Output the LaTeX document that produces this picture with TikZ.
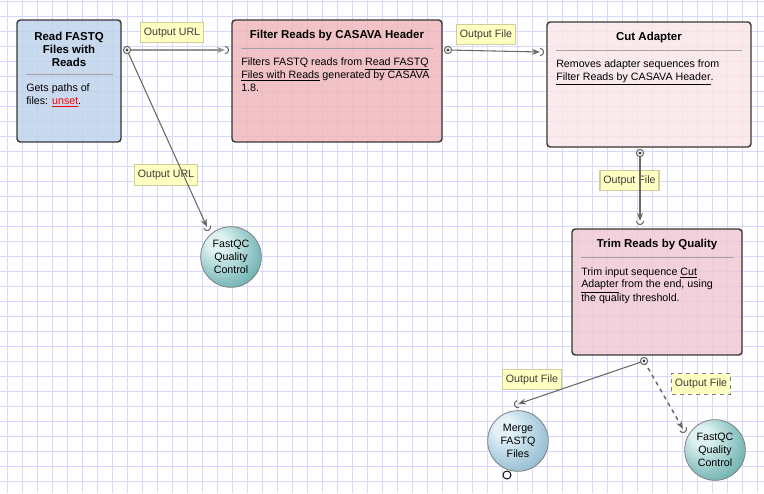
\documentclass[tikz,border=0pt]{standalone}
\usepackage{fontspec}
\setmainfont{Liberation Sans}
\usepackage{tikz}
\usetikzlibrary{arrows.meta}

\definecolor{gridline}{RGB}{216,216,250}
\definecolor{boxedge}{RGB}{55,55,55}
\definecolor{sepgray}{RGB}{165,160,165}
\definecolor{readblue}{RGB}{190,211,235}
\definecolor{filterpink}{RGB}{240,182,186}
\definecolor{cutpink}{RGB}{251,230,233}
\definecolor{trimpink}{RGB}{240,200,212}
\definecolor{lblfill}{RGB}{255,255,194}
\definecolor{lbledge}{RGB}{205,205,160}
\definecolor{lbltext}{RGB}{60,60,60}
\definecolor{flowgray}{RGB}{105,105,105}
\definecolor{fqlight}{RGB}{222,242,242}
\definecolor{fqdark}{RGB}{28,132,128}
\definecolor{mglight}{RGB}{228,242,248}
\definecolor{mgdark}{RGB}{88,150,182}

\pgfdeclareradialshading{fastqcball}{\pgfpoint{-14bp}{14bp}}{color(0bp)=(fqlight); color(8bp)=(fqlight); color(50bp)=(fqdark)}
\pgfdeclareradialshading{mergeball}{\pgfpoint{-14bp}{14bp}}{color(0bp)=(mglight); color(8bp)=(mglight); color(50bp)=(mgdark)}

\tikzset{
  stepbox/.style={rectangle, draw=boxedge, line width=1.1pt, rounded corners=2.5pt, fill opacity=0.82},
  sepline/.style={draw=sepgray, line width=0.75pt},
  titletext/.style={font=\fontsize{8.6pt}{9.75pt}\selectfont\bfseries, align=center, inner sep=0pt},
  bodytext/.style={align=left, anchor=north west, inner sep=0pt},
  outlabel/.style={rectangle, fill=lblfill, draw=lbledge, line width=0.9pt, text=lbltext,
    inner xsep=2.5pt, inner ysep=0pt, minimum height=15.5pt},
  taskball/.style={circle, draw=gray, line width=0.6pt, minimum size=45.5pt, inner sep=0pt, align=center},
  flow/.style={draw=flowgray, line width=0.8pt, -{Stealth[length=6pt,width=4.5pt]}},
  portring/.style={draw=flowgray, line width=0.8pt},
}

\newcommand{\outport}[1]{%
  \draw[portring, fill=white] (#1) circle[radius=2.7pt];
  \fill[black!75] (#1) circle[radius=1.3pt];}
\newcommand{\inport}[2]{%
  \draw[portring] (#1) ++(#2+90:2.7pt) arc[start angle=#2+90, end angle=#2-90, radius=2.7pt];}

\begin{document}
\begin{tikzpicture}[x=0.75pt, y=-0.75pt, font=\fontsize{8pt}{9.75pt}\selectfont]
  \useasboundingbox (0,0) rectangle (764,493);
  \fill[white] (0,0) rectangle (764,493);

  % grid
  \foreach \gx in {7,22,...,757} \draw[gridline, line width=0.75pt] (\gx,0) -- (\gx,493);
  \foreach \gy in {1,16,...,481} \draw[gridline, line width=0.75pt] (0,\gy) -- (764,\gy);

  % labels of the links
  \node[outlabel] (urllbl) at (172,32.5) {Output URL};
  \node[outlabel] (filelbl) at (486,34.5) {Output File};
  \node[outlabel] (urlqclbl) at (166,175) {Output URL};
  \node[outlabel] (cutlbl) at (629.5,180.5) {Output File};
  \node[outlabel] (mergelbl) at (532,379.5) {Output File};
  \node[outlabel, dashed, draw=gray] (trimqclbl) at (701,384) {Output File};

  % task boxes
  \node[stepbox, fill=readblue, minimum width=78pt, minimum height=91.5pt] (readfq) at (69,81) {};
  \node[titletext] (readfqtitle) at (69,49) {Read FASTQ\\Files with\\Reads};
  \draw[sepline] (26,74) -- (113,74);
  \node[bodytext] (readfqbody) at (26,83.5) {Gets paths of\\files: \textcolor{red}{\underline{unset}}.};

  \node[stepbox, fill=filterpink, minimum width=157.5pt, minimum height=91.5pt] (filter) at (337,81) {};
  \node[titletext] (filtertitle) at (337,36) {Filter Reads by CASAVA Header};
  \draw[sepline] (241,48) -- (433,48);
  \node[bodytext] (filterbody) at (241,57.5) {Filters FASTQ reads from \underline{Read FASTQ}\\
    \underline{Files with Reads} generated by CASAVA\\ 1.8.};

  \node[stepbox, fill=cutpink, minimum width=153pt, minimum height=93.75pt] (cutad) at (649,84.5) {};
  \node[titletext] (cutadtitle) at (649,38) {Cut Adapter};
  \draw[sepline] (556,50) -- (742,50);
  \node[bodytext] (cutadbody) at (556,59.5) {Removes adapter sequences from\\
    \underline{Filter Reads by CASAVA Header}.};

  \node[stepbox, fill=trimpink, minimum width=127.5pt, minimum height=94.5pt] (trim) at (657,292) {};
  \node[titletext] (trimtitle) at (657,245) {Trim Reads by Quality};
  \draw[sepline] (581,257) -- (734,257);
  \node[bodytext] (trimbody) at (581,267) {Trim input sequence \underline{Cut}\\
    \underline{Adapter} from the end, using\\the quality threshold.};

  % end tasks
  \node[taskball, shading=fastqcball] (fastqcA) at (231,257) {FastQC\\Quality\\Control};
  \node[taskball, shading=mergeball] (merge) at (518,441) {Merge\\FASTQ\\Files};
  \node[taskball, shading=fastqcball] (fastqcB) at (715,450) {FastQC\\Quality\\Control};

  % ports
  \coordinate (readfq-out) at (127,50);
  \coordinate (filter-in) at (225,50);
  \coordinate (filter-out) at (448,50);
  \coordinate (cutad-in) at (540,52);
  \coordinate (cutad-out) at (640,153);
  \coordinate (trim-in) at (640,221);
  \coordinate (trim-out) at (644,361);
  \coordinate (fastqcA-in) at (207,227);
  \coordinate (merge-in) at (518,404);
  \coordinate (fastqcB-in) at (683,429);
  \coordinate (merge-out) at (507,475);

  % links
  \draw[flow, draw=gray!85, line width=1.4pt] (readfq-out) -- (filter-in);
  \draw[flow] (readfq-out) -- (fastqcA-in);
  \draw[flow] (filter-out) -- (cutad-in);
  \draw[flow] (cutad-out) -- (trim-in);
  \draw[flow] (trim-out) -- (merge-in);
  \draw[flow, dashed, line width=1.1pt] (trim-out) -- (fastqcB-in);

  \outport{readfq-out}
  \outport{filter-out}
  \outport{cutad-out}
  \outport{trim-out}
  \inport{filter-in}{0}
  \inport{cutad-in}{0}
  \inport{trim-in}{-90}
  \inport{fastqcA-in}{-65.7}
  \inport{merge-in}{198.8}
  \inport{fastqcB-in}{-60.2}
  \draw[black, fill=white, line width=0.7pt] (merge-out) circle[radius=3pt];
\end{tikzpicture}
\end{document}
